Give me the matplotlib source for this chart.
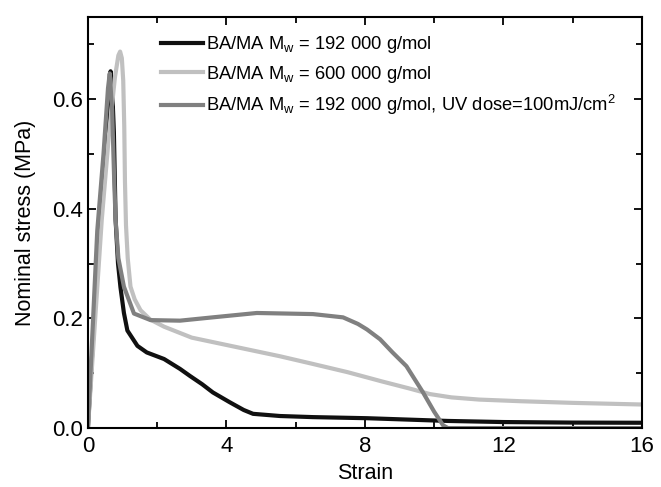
import numpy as np
import matplotlib
matplotlib.use("Agg")
import matplotlib.pyplot as plt
from matplotlib.ticker import MultipleLocator

plt.rcParams['font.family'] = ['Liberation Sans', 'DejaVu Sans']
plt.rcParams['mathtext.fontset'] = 'custom'
plt.rcParams['mathtext.rm'] = 'Liberation Sans'
plt.rcParams['mathtext.it'] = 'Liberation Sans:italic'

# strain / stress curves
x_192 = [0, 0.3, 0.5, 0.62, 0.655, 0.7, 0.75, 0.8, 0.87, 0.94, 1.04, 1.14, 1.43, 1.7,
         2.2, 2.66, 2.95, 3.3, 3.61, 4.1, 4.5, 4.77, 5.55, 6.5, 8.06, 10.4, 12, 14, 16]
y_192 = [0, 0.33, 0.52, 0.63, 0.651, 0.62, 0.54, 0.38, 0.3, 0.257, 0.21, 0.178, 0.15,
         0.138, 0.126, 0.108, 0.095, 0.08, 0.065, 0.047, 0.033, 0.026, 0.022, 0.02,
         0.018, 0.013, 0.011, 0.01, 0.0097]

x_600 = [0, 0.2, 0.4, 0.6, 0.78, 0.88, 0.93, 0.98, 1.02, 1.05, 1.07, 1.1, 1.15, 1.23,
         1.35, 1.52, 1.8, 2.2, 3.0, 3.6, 4.5, 5.55, 6.5, 7.5, 8.5, 9.3, 9.88, 10.5,
         11.3, 12.5, 14, 16]
y_600 = [0, 0.19, 0.38, 0.53, 0.64, 0.68, 0.687, 0.675, 0.634, 0.55, 0.45, 0.37, 0.31,
         0.258, 0.235, 0.215, 0.198, 0.185, 0.165, 0.157, 0.145, 0.131, 0.117, 0.102,
         0.085, 0.072, 0.062, 0.056, 0.052, 0.049, 0.046, 0.043]

x_uv = [0, 0.27, 0.45, 0.58, 0.63, 0.7, 0.76, 0.8, 0.88, 1.04, 1.33, 1.81, 2.66, 3.6,
        4.88, 5.7, 6.5, 7.37, 7.8, 8.06, 8.44, 8.8, 9.2, 9.68, 10.0, 10.26, 10.4, 16]
y_uv = [0, 0.36, 0.5, 0.62, 0.647, 0.58, 0.45, 0.38, 0.31, 0.258, 0.209, 0.197, 0.196,
        0.202, 0.21, 0.209, 0.208, 0.202, 0.19, 0.18, 0.162, 0.138, 0.113, 0.065, 0.03,
        0.005, 0.0, 0.0]

labels = ['BA/MA M$_\\mathrm{w}$ = 192 000 g/mol',
          'BA/MA M$_\\mathrm{w}$ = 600 000 g/mol',
          'BA/MA M$_\\mathrm{w}$ = 192 000 g/mol, UV dose=100mJ/cm$^2$']

xticks = [0, 4, 8, 12, 16]
yticks = [0.0, 0.2, 0.4, 0.6]

fig = plt.figure(figsize=(6.61, 4.87), dpi=100)
ax = fig.add_axes([0.133, 0.121, 0.838, 0.844])

ax.plot(x_192, y_192, color='#101010', lw=3, label=labels[0], solid_joinstyle='round')
ax.plot(x_600, y_600, color='#c0c0c0', lw=3, label=labels[1], solid_joinstyle='round')
ax.plot(x_uv, y_uv, color='#808080', lw=3, label=labels[2], solid_joinstyle='round')

ax.set_xlim(0, 16)
ax.set_ylim(0, 0.75)
ax.set_xticks(xticks)
ax.set_xticklabels([str(t) for t in xticks])
ax.set_yticks(yticks)
ax.set_yticklabels(['%.1f' % t for t in yticks])
ax.xaxis.set_minor_locator(MultipleLocator(2))
ax.yaxis.set_minor_locator(MultipleLocator(0.1))
ax.tick_params(which='both', direction='in', top=True, right=True, width=1.3,
               labelsize=16)
ax.tick_params(which='major', length=6)
ax.tick_params(which='minor', length=4)
ax.tick_params(axis='x', which='major', pad=6)
for s in ax.spines.values():
    s.set_linewidth(1.5)

ax.set_xlabel('Strain', fontsize=15.5, labelpad=4)
ax.set_ylabel('Nominal stress (MPa)', fontsize=15.5, labelpad=12)

ax.legend(loc='upper left', bbox_to_anchor=(0.108, 0.99), frameon=False,
          fontsize=13.2, handlelength=2.3, handletextpad=0.2, labelspacing=0.47,
          borderaxespad=0.3)

fig.savefig('out.png', dpi=100)
